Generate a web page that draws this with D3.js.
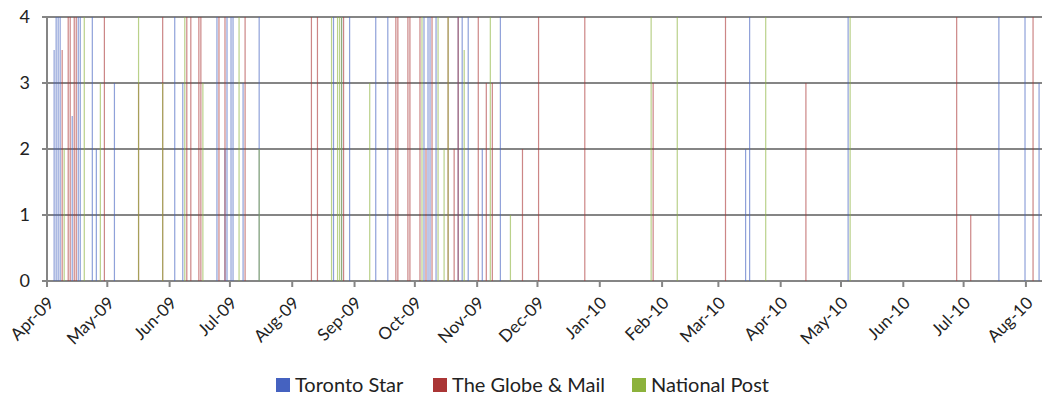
<!DOCTYPE html>
<html>
<head>
<meta charset="utf-8">
<script src="https://cdn.jsdelivr.net/npm/d3@7"></script>
<style>
  body { margin: 0; background: #fff; }
  text { font-family: Lato, "Open Sans", sans-serif; fill: #222; }
</style>
</head>
<body>
<div id="chart"></div>
<script>
// article counts per day
var starDates = ["2009-04-04","2009-04-05","2009-04-06","2009-04-07","2009-04-13","2009-04-16","2009-04-17","2009-04-23","2009-04-25","2009-05-04",
  "2009-06-03","2009-06-07","2009-06-24","2009-06-28","2009-06-29","2009-07-01","2009-07-02","2009-07-07","2009-07-15",
  "2009-08-21","2009-08-25","2009-08-29","2009-09-11","2009-09-17","2009-10-05","2009-10-07","2009-10-08","2009-10-11",
  "2009-10-22","2009-10-24","2009-10-27","2009-11-03","2009-11-12","2010-03-14","2010-03-16","2010-05-04","2010-07-18",
  "2010-07-31","2010-08-07"];
var starValues = [3.5,4,4,4,2.5,4,4,4,2,3,
  4,3,4,2,4,4,4,3,4,
  4,4,4,4,4,4,4,4,4,
  4,4,4,2,4,2,4,4,4,
  4,3];

var globeDates = ["2009-04-08","2009-04-11","2009-04-12","2009-04-14","2009-04-15","2009-04-29","2009-05-16","2009-05-28",
  "2009-06-09","2009-06-11","2009-06-15","2009-06-16","2009-06-25","2009-06-28","2009-07-08","2009-08-10","2009-08-13",
  "2009-08-26","2009-09-21","2009-09-22","2009-09-27","2009-09-28","2009-10-03","2009-10-06","2009-10-09","2009-10-17",
  "2009-10-20","2009-10-22","2009-11-01","2009-11-05","2009-11-08","2009-11-23","2009-12-01","2009-12-24","2010-01-27",
  "2010-03-04","2010-04-13","2010-06-27","2010-07-04","2010-08-04"];
var globeValues = [3.5,4,4,4,4,4,3,4,
  4,4,4,4,4,4,4,4,4,
  4,4,4,4,4,4,2,4,4,
  2,4,4,3,3,2,4,4,3,
  4,3,4,1,4];

var postDates = ["2009-04-09","2009-04-19","2009-04-27","2009-05-16","2009-05-28","2009-06-08","2009-06-17","2009-07-05",
  "2009-07-15","2009-08-20","2009-08-23","2009-08-24","2009-08-25","2009-09-08","2009-10-04","2009-10-12","2009-10-15",
  "2009-10-17","2009-10-25","2009-11-07","2009-11-17","2010-01-26","2010-02-08","2010-03-24","2010-05-05"];
var postValues = [2,4,3,4,3,4,3,4,
  2,4,4,4,4,3,4,4,2,
  4,3.5,4,1,4,4,4,4];

var seriesNames = ["Toronto Star", "The Globe & Mail", "National Post"];
var seriesColors = ["#4562c0", "#aa3535", "#8cb23c"];
var monthTicks = ["2009-04-01","2009-05-01","2009-06-01","2009-07-01","2009-08-01","2009-09-01","2009-10-01","2009-11-01",
  "2009-12-01","2010-01-01","2010-02-01","2010-03-01","2010-04-01","2010-05-01","2010-06-01","2010-07-01","2010-08-01"];
var yTicks = [0, 1, 2, 3, 4];

var parse = d3.timeParse("%Y-%m-%d");
var series = [
  {name: seriesNames[0], color: seriesColors[0], dates: starDates, values: starValues},
  {name: seriesNames[1], color: seriesColors[1], dates: globeDates, values: globeValues},
  {name: seriesNames[2], color: seriesColors[2], dates: postDates, values: postValues}
];

var width = 1052, height = 401;
var margin = {top: 17, right: 10, bottom: 120, left: 47};

var svg = d3.select("#chart").append("svg")
    .attr("width", width)
    .attr("height", height);

var x = d3.scaleTime()
    .domain([parse("2009-04-01"), parse("2010-08-09")])
    .range([margin.left, width - margin.right]);
var y = d3.scaleLinear().domain([0, 4]).range([height - margin.bottom, margin.top]);

// gridlines
svg.append("g")
  .selectAll("line")
  .data(yTicks)
  .enter().append("line")
    .attr("x1", margin.left - 5)
    .attr("x2", width - margin.right)
    .attr("y1", function(d) { return y(d); })
    .attr("y2", function(d) { return y(d); })
    .attr("stroke", "#858585")
    .attr("stroke-width", 2);

// bars
series.forEach(function(s) {
  svg.append("g")
    .selectAll("rect")
    .data(s.dates.map(function(d, i) { return {date: parse(d), value: s.values[i]}; }))
    .enter().append("rect")
      .attr("x", function(d) { return x(d.date) + 0.5; })
      .attr("width", 1.2)
      .attr("y", function(d) { return y(d.value); })
      .attr("height", function(d) { return y(0) - y(d.value); })
      .attr("fill", s.color)
      .attr("fill-opacity", 0.6);
});

// y axis line
svg.append("line")
    .attr("x1", margin.left).attr("x2", margin.left)
    .attr("y1", y(4)).attr("y2", y(0))
    .attr("stroke", "#858585").attr("stroke-width", 2);

// y labels
svg.append("g")
  .selectAll("text")
  .data(yTicks)
  .enter().append("text")
    .attr("x", 30)
    .attr("y", function(d) { return y(d) + 6; })
    .attr("text-anchor", "end")
    .style("font-size", "18px")
    .text(function(d) { return d; });

// x axis ticks and labels
var fmt = d3.timeFormat("%b-%y");
var xt = svg.append("g");
xt.selectAll("line")
  .data(monthTicks)
  .enter().append("line")
    .attr("x1", function(d) { return x(parse(d)); })
    .attr("x2", function(d) { return x(parse(d)); })
    .attr("y1", y(0))
    .attr("y2", y(0) + 6)
    .attr("stroke", "#858585")
    .attr("stroke-width", 2);
xt.selectAll("text")
  .data(monthTicks)
  .enter().append("text")
    .attr("transform", function(d) { return "translate(" + (x(parse(d)) + 8) + "," + (y(0) + 23) + ") rotate(-45)"; })
    .attr("text-anchor", "end")
    .style("font-size", "17px")
    .text(function(d) { return fmt(parse(d)); });

// legend
var legendX = [276, 433, 632];
var legend = svg.append("g")
  .selectAll("g")
  .data(series)
  .enter().append("g")
    .attr("transform", function(d, i) { return "translate(" + legendX[i] + ",378)"; });
legend.append("rect")
    .attr("width", 14).attr("height", 14)
    .attr("fill", function(d) { return d.color; });
legend.append("text")
    .attr("x", 19)
    .attr("y", 14)
    .style("font-size", "20px")
    .text(function(d) { return d.name; });
</script>
</body>
</html>
